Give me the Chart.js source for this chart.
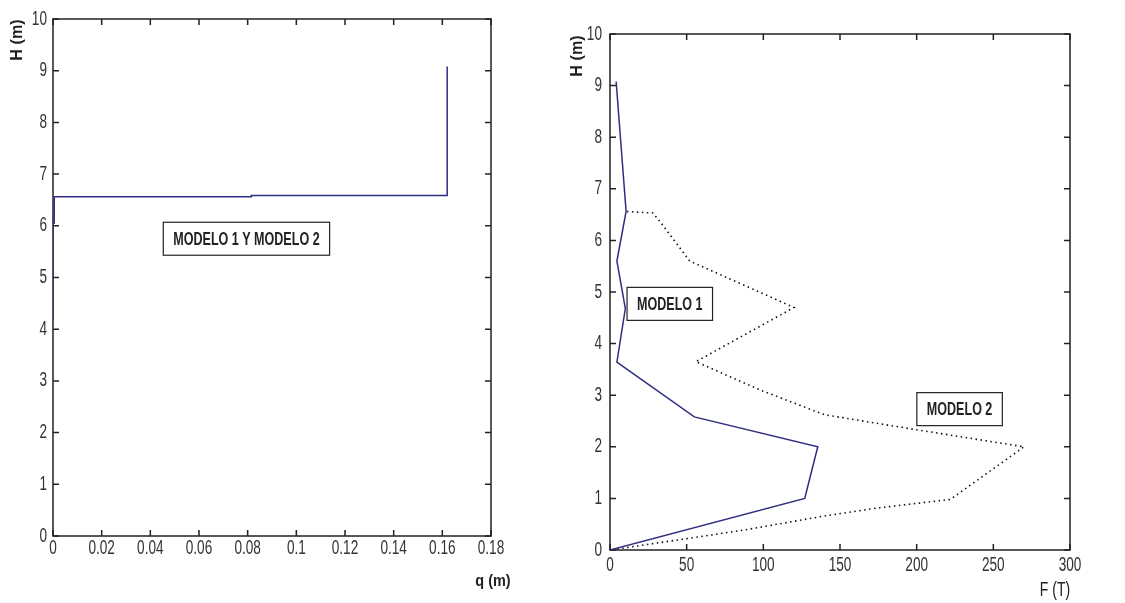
<!DOCTYPE html>
<html>
<head>
<meta charset="utf-8">
<script src="https://cdn.jsdelivr.net/npm/chart.js@4/dist/chart.umd.min.js"></script>
<style>
  body { margin:0; background:#fff; }
  .box { position:absolute; top:0; height:603px; }
  #wrapQ { left:0; width:560px; }
  #wrapF { left:560px; width:565px; }
</style>
</head>
<body>
<div class="box" id="wrapQ"><canvas id="chQ"></canvas></div>
<div class="box" id="wrapF"><canvas id="chF"></canvas></div>
<script>
// left plot: drift q (m) against height H (m)
var qDrift   = [0, 0, 0.0005, 0.0005, 0.0815, 0.0815, 0.162, 0.162];
var hDrift   = [4.2, 6.05, 6.05, 6.56, 6.56, 6.585, 6.585, 9.08];

// right plot: force F (T) against height H (m)
var fModelo1 = [0, 127, 135.5, 55, 4.5, 10, 4.5, 10.5, 4];
var hModelo1 = [0, 1, 2, 2.58, 3.64, 4.68, 5.6, 6.56, 9.08];
var fModelo2 = [11, 28, 33, 52, 120, 56, 98, 140, 200, 270, 222, 176, 140, 90, 50, 0];
var hModelo2 = [6.56, 6.53, 6.35, 5.6, 4.7, 3.65, 3.1, 2.62, 2.33, 2.0, 0.98, 0.82, 0.66, 0.4, 0.22, 0];

var qTicks = [0, 0.02, 0.04, 0.06, 0.08, 0.1, 0.12, 0.14, 0.16, 0.18];
var fTicks = [0, 50, 100, 150, 200, 250, 300];

function pts(xs, ys) { return xs.map(function (x, i) { return {x: x, y: ys[i]}; }); }

var FAM = '"Liberation Sans", Arial, sans-serif';

// squeezed text, the matlab export uses a narrow face
function narrowText(c, txt, x, y, sx, align) {
  c.save();
  c.translate(x, y);
  c.scale(sx, 1);
  c.textAlign = align || 'center';
  c.fillText(txt, 0, 0);
  c.restore();
}

// box with inward ticks on all sides, drawn under the lines
var matlabBox = {
  id: 'matlabBox',
  beforeDatasetsDraw: function (chart, args, opts) {
    var c = chart.ctx, a = chart.chartArea, sx = chart.scales.x, sy = chart.scales.y;
    c.save();
    c.strokeStyle = '#222'; c.lineWidth = 1.5;
    c.strokeRect(a.left, a.top, a.right - a.left, a.bottom - a.top);
    c.beginPath();
    sx.ticks.forEach(function (t) {
      var px = sx.getPixelForValue(t.value);
      c.moveTo(px, a.bottom); c.lineTo(px, a.bottom - 6);
      c.moveTo(px, a.top); c.lineTo(px, a.top + 6);
    });
    sy.ticks.forEach(function (t) {
      var py = sy.getPixelForValue(t.value);
      c.moveTo(a.left, py); c.lineTo(a.left + 6, py);
      c.moveTo(a.right, py); c.lineTo(a.right - 6, py);
    });
    c.stroke();

    // tick labels from the scale ticks
    c.fillStyle = '#333';
    c.font = '20px ' + FAM;
    c.textBaseline = 'middle';
    sx.ticks.forEach(function (t) {
      narrowText(c, String(t.value), sx.getPixelForValue(t.value), a.bottom + opts.xLabGap, 0.68, 'center');
    });
    sy.ticks.forEach(function (t) {
      narrowText(c, String(t.value), a.left - opts.yLabGap, sy.getPixelForValue(t.value), 0.68, 'right');
    });
    c.restore();
  },
  afterDraw: function (chart, args, opts) {
    var c = chart.ctx, a = chart.chartArea, sx = chart.scales.x, sy = chart.scales.y;
    c.save();
    c.fillStyle = '#222';
    c.textBaseline = 'middle';
    // axis names
    c.font = 'bold 17px ' + FAM;
    c.save();
    c.translate(a.left - opts.yNameDx, a.top + opts.yNameDy);
    c.rotate(-Math.PI / 2);
    narrowText(c, 'H (m)', 0, 0, 0.95, 'center');
    c.restore();
    c.font = opts.xNameBold ? 'bold 17px ' + FAM : '20px ' + FAM;
    narrowText(c, opts.xName, a.right + opts.xNameDx, a.bottom + opts.xNameDy,
               opts.xNameBold ? 0.85 : 0.7, 'center');

    // labelled boxes
    c.font = 'bold 19px ' + FAM;
    opts.notes.forEach(function (n) {
      var cx = sx.getPixelForValue(n.x), cy = sy.getPixelForValue(n.y);
      var w = c.measureText(n.text).width * 0.66 + 2 * n.padX, h = 33;
      c.fillStyle = '#fff';
      c.fillRect(cx - w / 2, cy - h / 2, w, h);
      c.lineWidth = 1.2; c.strokeStyle = '#222';
      c.strokeRect(cx - w / 2, cy - h / 2, w, h);
      c.fillStyle = '#222';
      narrowText(c, n.text, cx, cy + 1, 0.66, 'center');
    });
    c.restore();
  }
};

function axisX(max, ticks, h) {
  return {
    type: 'linear', min: 0, max: max,
    grid: {display: false}, border: {display: false},
    afterBuildTicks: function (s) { s.ticks = ticks.map(function (v) { return {value: v}; }); },
    ticks: {display: false},
    afterFit: function (s) { s.height = h; }
  };
}
function axisY(w) {
  return {
    type: 'linear', min: 0, max: 10,
    grid: {display: false}, border: {display: false},
    ticks: {display: false, stepSize: 1},
    afterFit: function (s) { s.width = w; }
  };
}

var commonOpts = {
  responsive: true, maintainAspectRatio: false, animation: false,
  plugins: {legend: {display: false}, tooltip: {enabled: false}}
};

new Chart(document.getElementById('chQ'), {
  type: 'scatter',
  data: {datasets: [{
    data: pts(qDrift, hDrift), showLine: true, borderColor: '#2e2e80', borderWidth: 1.5,
    pointRadius: 0, tension: 0
  }]},
  options: Object.assign({}, commonOpts, {
    layout: {padding: {top: 19, right: 69, left: 0, bottom: 0}},
    scales: {x: axisX(0.18, qTicks, 67), y: axisY(53)},
    plugins: Object.assign({}, commonOpts.plugins, {matlabBox: {
      xLabGap: 12, yLabGap: 6,
      yNameDx: 36, yNameDy: 21, xName: 'q (m)', xNameBold: true, xNameDx: 2, xNameDy: 45,
      notes: [{text: 'MODELO 1 Y MODELO 2', x: 0.0795, y: 5.75, padX: 10}]
    }})
  }),
  plugins: [matlabBox]
});

new Chart(document.getElementById('chF'), {
  type: 'scatter',
  data: {datasets: [
    {data: pts(fModelo1, hModelo1), showLine: true, borderColor: '#2e2e80', borderWidth: 1.5,
     pointRadius: 0, tension: 0},
    {data: pts(fModelo2, hModelo2), showLine: true, borderColor: '#111', borderWidth: 1.6,
     borderDash: [1.5, 3.5], pointRadius: 0, tension: 0}
  ]},
  options: Object.assign({}, commonOpts, {
    layout: {padding: {top: 34, right: 55, left: 0, bottom: 0}},
    scales: {x: axisX(300, fTicks, 53), y: axisY(50)},
    plugins: Object.assign({}, commonOpts.plugins, {matlabBox: {
      xLabGap: 15, yLabGap: 8,
      yNameDx: 33, yNameDy: 22, xName: 'F (T)', xNameBold: false, xNameDx: -15, xNameDy: 40,
      notes: [{text: 'MODELO 1', x: 39, y: 4.77, padX: 10},
              {text: 'MODELO 2', x: 228, y: 2.73, padX: 10}]
    }})
  }),
  plugins: [matlabBox]
});
</script>
</body>
</html>
